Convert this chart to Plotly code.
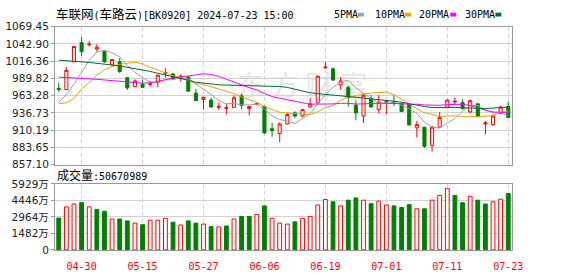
import plotly.graph_objects as go

# ---------------- data ----------------
dates = ["2024-04-25","2024-04-26","2024-04-29","2024-04-30","2024-05-06","2024-05-07","2024-05-08","2024-05-09","2024-05-10","2024-05-13",
         "2024-05-14","2024-05-15","2024-05-16","2024-05-17","2024-05-20","2024-05-21","2024-05-22","2024-05-23","2024-05-24","2024-05-27",
         "2024-05-28","2024-05-29","2024-05-30","2024-05-31","2024-06-03","2024-06-04","2024-06-05","2024-06-06","2024-06-07","2024-06-11",
         "2024-06-12","2024-06-13","2024-06-14","2024-06-17","2024-06-18","2024-06-19","2024-06-20","2024-06-21","2024-06-24","2024-06-25",
         "2024-06-26","2024-06-27","2024-06-28","2024-07-01","2024-07-02","2024-07-03","2024-07-04","2024-07-05","2024-07-08","2024-07-09",
         "2024-07-10","2024-07-11","2024-07-12","2024-07-15","2024-07-16","2024-07-17","2024-07-18","2024-07-19","2024-07-22","2024-07-23"]

open_ = [974.7, 972.7, 1015.3, 1044.7, 1041.3, 1034.9, 1031.0, 1010.4, 1015.3, 990.8,
         977.1, 981.0, 980.5, 983.5, 997.2, 996.7, 989.8, 991.8, 967.3, 957.5,
         956.5, 945.3, 943.8, 945.3, 962.9, 943.3, 950.2, 946.7, 912.5, 905.1,
         919.8, 936.9, 932.0, 945.8, 952.0, 1006.0, 1004.5, 980.0, 976.1, 948.7,
         932.0, 958.5, 941.8, 953.6, 953.6, 950.7, 949.2, 913.9, 914.9, 887.0,
         914.9, 945.8, 953.6, 952.6, 938.4, 950.7, 919.8, 918.8, 936.0, 946.7]
high = [983.5, 1007.0, 1039.8, 1053.5, 1047.2, 1042.3, 1032.5, 1019.2, 1021.2, 991.8,
        988.4, 988.4, 985.9, 995.7, 1005.5, 997.2, 995.7, 993.3, 973.7, 961.4,
        960.0, 952.6, 951.6, 963.9, 966.3, 947.7, 952.6, 948.2, 921.3, 922.3,
        936.9, 939.4, 942.8, 960.0, 993.8, 1015.3, 1006.5, 991.8, 978.6, 956.0,
        967.3, 963.9, 963.9, 956.5, 963.9, 952.6, 950.7, 924.7, 915.4, 917.3,
        937.9, 957.5, 960.5, 957.5, 957.5, 951.6, 924.7, 934.5, 947.7, 954.1]
low = [968.8, 972.2, 1014.8, 1024.1, 1038.8, 1031.0, 1013.8, 1010.4, 998.2, 972.2,
       976.6, 975.6, 977.1, 976.1, 990.8, 986.9, 984.9, 969.8, 955.0, 941.8,
       945.3, 941.8, 934.5, 944.8, 942.8, 933.0, 948.7, 904.6, 900.2, 891.9,
       919.3, 929.6, 930.1, 945.3, 951.6, 1005.0, 985.9, 972.2, 946.7, 925.5,
       921.3, 945.3, 936.0, 934.5, 947.7, 938.4, 917.8, 899.2, 883.1, 877.2,
       914.4, 945.3, 949.2, 941.8, 936.0, 930.6, 903.6, 916.4, 935.5, 929.1]
close = [972.7, 1002.1, 1038.8, 1031.0, 1042.3, 1037.8, 1015.3, 1018.8, 1000.6, 975.2,
         985.9, 976.1, 981.5, 994.7, 998.7, 988.4, 993.3, 970.2, 955.6, 961.0,
         945.8, 946.2, 944.8, 960.0, 948.2, 946.7, 951.1, 906.1, 909.5, 919.8,
         934.5, 932.0, 941.8, 950.7, 993.3, 1007.0, 987.4, 985.9, 960.5, 936.9,
         963.9, 945.8, 953.1, 954.6, 951.1, 938.9, 918.3, 918.8, 885.5, 914.9,
         929.6, 956.5, 954.6, 943.8, 955.6, 931.1, 921.3, 932.0, 945.8, 929.6]

ma5 = [953.0, 965.0, 981.0, 1000.0, 1017.4, 1030.4, 1033.0, 1029.0, 1023.0, 1009.5,
       999.2, 991.3, 983.9, 982.7, 987.4, 987.9, 991.3, 989.1, 981.2, 973.7,
       965.2, 955.8, 950.7, 951.6, 949.0, 949.2, 950.2, 942.4, 932.3, 926.6,
       924.2, 920.4, 927.5, 935.8, 950.5, 965.0, 976.0, 984.9, 986.8, 975.5,
       966.9, 958.6, 952.0, 950.9, 953.7, 948.7, 943.2, 936.3, 922.5, 915.3,
       913.4, 921.1, 928.2, 939.9, 948.0, 948.3, 941.3, 936.8, 937.2, 932.0]
ma10 = [950.7, 952.6, 959.0, 973.6, 983.5, 994.8, 1003.0, 1008.0, 1011.4, 1013.5,
        1014.8, 1012.2, 1006.5, 1002.8, 998.5, 993.5, 991.3, 986.5, 982.0, 980.5,
        976.5, 973.5, 969.9, 966.4, 961.4, 957.2, 953.0, 946.6, 941.9, 937.8,
        936.7, 935.3, 935.0, 934.0, 938.6, 944.6, 948.2, 956.2, 961.3, 963.0,
        965.9, 967.3, 968.5, 968.8, 964.6, 957.8, 950.9, 944.2, 936.7, 934.5,
        931.1, 932.1, 932.3, 931.2, 931.7, 930.9, 931.2, 932.5, 938.5, 940.0]
ma20 = [991.8, 991.3, 990.8, 990.3, 989.3, 988.4, 987.4, 986.4, 985.4, 984.4,
        983.5, 982.5, 983.0, 984.9, 987.9, 990.3, 992.3, 993.8, 995.2, 997.0,
        995.7, 992.9, 988.2, 984.6, 979.9, 975.4, 972.1, 966.5, 962.0, 959.2,
        956.6, 954.4, 952.4, 950.2, 950.0, 950.9, 950.6, 951.4, 951.6, 950.4,
        951.3, 951.3, 951.7, 951.4, 951.6, 951.2, 949.6, 950.2, 949.0, 948.7,
        948.5, 949.7, 950.4, 950.0, 948.1, 944.3, 941.0, 938.3, 937.6, 937.2]
ma30 = [1017.8, 1017.3, 1016.3, 1015.3, 1014.3, 1013.3, 1011.9, 1010.4, 1008.9, 1007.0,
        1004.5, 1002.6, 1000.6, 997.7, 994.7, 992.3, 989.9, 986.9, 984.0, 982.5,
        981.0, 980.0, 979.6, 979.3, 979.0, 978.8, 978.5, 978.0, 977.6, 977.3,
        976.0, 973.7, 970.4, 967.8, 966.1, 965.1, 964.2, 963.1, 961.7, 960.5,
        959.7, 958.7, 957.8, 956.4, 954.8, 953.2, 950.7, 949.0, 946.6, 945.1,
        944.6, 944.9, 945.2, 944.7, 944.9, 944.4, 943.4, 944.3, 945.5, 945.8]

# volume in units of 万 (10,000)
volume = [2861, 3867, 4125, 4239, 3867, 3637, 3466, 2778, 2778, 2606,
          2406, 2263, 2664, 2664, 2836, 2492, 2234, 2606, 2406, 2320,
          2091, 2062, 2148, 2778, 3008, 3008, 3179, 3953, 2836, 2406,
          2320, 2520, 2836, 3008, 4039, 4525, 4325, 3953, 4468, 4669,
          4468, 4153, 4382, 4039, 3953, 3810, 4067, 3695, 3695, 4468,
          4898, 5500, 4898, 4239, 4812, 4468, 4125, 4325, 4554, 5067]
vol_up = [0, 1, 1, 0, 1, 0, 0, 1, 0, 0,
          1, 0, 1, 1, 1, 0, 1, 0, 0, 1,
          0, 1, 0, 1, 0, 0, 1, 0, 1, 1,
          1, 0, 1, 1, 1, 1, 0, 1, 0, 0,
          1, 0, 1, 1, 0, 0, 0, 1, 0, 1,
          1, 1, 0, 0, 1, 0, 0, 1, 1, 0]

tick_dates = ["2024-04-30","2024-05-15","2024-05-27","2024-06-06","2024-06-19","2024-07-01","2024-07-11","2024-07-23"]
tick_labels = ["04-30","05-15","05-27","06-06","06-19","07-01","07-11","07-23"]
price_ticks = [857.10, 883.65, 910.19, 936.73, 963.28, 989.82, 1016.36, 1042.90, 1069.45]
price_tick_text = ["857.10", "883.65", "910.19", "936.73", "963.28", "989.82", "1016.36", "1042.90", "1069.45"]
vol_ticks = [0, 1482.25, 2964.5, 4446.75, 5929]
vol_tick_text = ["0", "1482万", "2964万", "4446万", "5929万"]
ma_names = ["5PMA", "10PMA", "20PMA", "30PMA"]
title_text = "车联网(车路云)[BK0920] 2024-07-23 15:00"
total_volume_text = "50670989"

# ---------------- style ----------------
W, H = 578, 276
RED = "#ff0000"
GREEN = "#008000"
ma_colors = ["#a0a0a0", "#f0a000", "#ff00ff", "#006b33"]
GRID = "#d2d2d2"
FRAME = "#999999"
MONO = "DejaVu Sans Mono, Noto Sans CJK SC"
SANS = "DejaVu Sans, Noto Sans CJK SC"

def px_x(x):
    return x / W

def px_y(y):
    return 1 - y / H

fig = go.Figure()

fig.add_trace(go.Candlestick(
    x=dates, open=open_, high=high, low=low, close=close,
    increasing=dict(line=dict(color=RED, width=1), fillcolor="#ffffff"),
    decreasing=dict(line=dict(color=GREEN, width=1), fillcolor=GREEN),
    whiskerwidth=0, hoverinfo="skip", xaxis="x", yaxis="y", showlegend=False,
))

for name, vals, col in zip(ma_names, [ma5, ma10, ma20, ma30], ma_colors):
    fig.add_trace(go.Scatter(x=dates, y=vals, mode="lines", name=name,
                             line=dict(color=col, width=1), hoverinfo="skip",
                             xaxis="x", yaxis="y", showlegend=False))

bar_fill = ["#ffffff" if u else GREEN for u in vol_up]
bar_line = [RED if u else GREEN for u in vol_up]
fig.add_trace(go.Bar(x=dates, y=volume, width=0.5,
                     marker=dict(color=bar_fill, line=dict(color=bar_line, width=1)),
                     hoverinfo="skip", xaxis="x2", yaxis="y2", showlegend=False))

x_dom = [px_x(56), px_x(522)]
common_x = dict(type="category", range=[-0.5, len(dates) - 0.5], domain=x_dom,
                tickvals=tick_dates, showgrid=True, gridcolor=GRID, griddash="4px,3px",
                gridwidth=1, showline=True, linecolor=FRAME, linewidth=1, mirror=True,
                ticks="", zeroline=False, fixedrange=True)

fig.update_layout(
    width=W, height=H, margin=dict(l=0, r=0, t=0, b=0),
    paper_bgcolor="#ffffff", plot_bgcolor="#ffffff",
    showlegend=False, boxgap=0.42, hovermode=False,
    xaxis=dict(**common_x, anchor="y", showticklabels=False, rangeslider=dict(visible=False)),
    xaxis2=dict(**common_x, anchor="y2", showticklabels=True, ticktext=tick_labels,
                ticklabelstandoff=7,
                tickfont=dict(family=MONO, size=10, color=RED)),
    yaxis=dict(domain=[px_y(166), px_y(21.5)], range=[price_ticks[0], price_ticks[-1]],
               tickvals=price_ticks, ticktext=price_tick_text,
               showgrid=True, gridcolor=GRID, gridwidth=1, zeroline=False,
               showline=True, linecolor=FRAME, mirror=True, ticks="outside", ticklen=3,
               tickcolor=FRAME, tickfont=dict(family=SANS, size=10.5, color="#222222"),
               anchor="x", fixedrange=True),
    yaxis2=dict(domain=[px_y(255), px_y(186)], range=[vol_ticks[0], vol_ticks[-1]],
                tickvals=vol_ticks, ticktext=vol_tick_text,
                showgrid=True, gridcolor=GRID, gridwidth=1, zeroline=False,
                showline=True, linecolor=FRAME, mirror=True, ticks="outside", ticklen=3,
                tickcolor=FRAME, tickfont=dict(family=SANS, size=10.5, color="#222222"),
                anchor="x2", fixedrange=True),
)

# watermark
fig.add_shape(type="rect", xref="paper", yref="paper",
              x0=px_x(228), x1=px_x(388), y0=px_y(100), y1=px_y(72),
              line=dict(width=0), fillcolor="rgba(0,0,0,0)", layer="below",
              label=dict(text="东 方 财 富", textposition="middle center",
                         font=dict(family="Noto Sans CJK SC", size=28, color="#e6e6e6")))

def cjk(s, size=12.5):
    return '<span style="font-size:%spx">%s</span>' % (size, s)

title_html = title_text.replace("车联网", cjk("车联网")).replace("车路云", cjk("车路云"))
fig.add_annotation(text=title_html, x=px_x(55), y=px_y(9), xref="paper", yref="paper",
                   xanchor="left", yanchor="middle", showarrow=False,
                   font=dict(family=MONO, size=10, color="#000000"))

fig.add_annotation(text=cjk("成交量", 12) + ":" + total_volume_text, x=px_x(56), y=px_y(177),
                   xref="paper", yref="paper", xanchor="left", yanchor="middle", showarrow=False,
                   font=dict(family=MONO, size=10, color="#000000"))

legend_x = [338, 380, 425, 472]
square_x = [365, 413, 459, 505]
for name, col, lx, sx in zip(ma_names, ma_colors, legend_x, square_x):
    fig.add_annotation(text=name, x=px_x(lx), y=px_y(9), xref="paper", yref="paper",
                       xanchor="left", yanchor="middle", showarrow=False,
                       font=dict(family=MONO, size=10, color="#000000"))
    fig.add_shape(type="rect", xref="paper", yref="paper",
                  x0=px_x(sx), x1=px_x(sx + 6), y0=px_y(11), y1=px_y(7),
                  line=dict(width=0), fillcolor=col)

fig.write_html("out.html", config={"displayModeBar": False})
